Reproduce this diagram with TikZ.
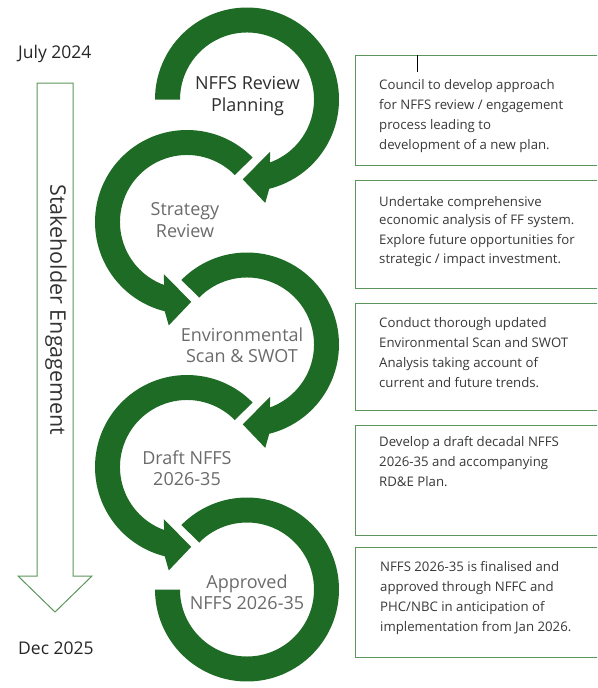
\documentclass[tikz,border=0pt]{standalone}
\usepackage{fontspec}
\setmainfont{Open Sans}
\usetikzlibrary{calc}
\definecolor{ringgreen}{RGB}{30,107,38}
\definecolor{boxgreen}{RGB}{92,150,92}

\begin{document}
\begin{tikzpicture}[x=1pt,y=1pt]
    \tikzset{ring/.style = {fill=ringgreen}}
    \tikzset{stage/.style = {align=center, text=black!58, font=\fontsize{18}{21.5}\selectfont}}
    \tikzset{notebox/.style = {draw=boxgreen, line width=1.3pt, anchor=north west, minimum width=250pt, inner sep=0pt}}
    \tikzset{note/.style = {anchor=north west, inner sep=0pt, align=left, text=black!78, font=\fontsize{13.2}{20}\selectfont}}
    \tikzset{date/.style = {anchor=base west, inner sep=0pt, text=black!85, font=\fontsize{17.5}{20}\selectfont}}

    \clip (0,0) rectangle (597,-688);

    % ring centres
    \coordinate (c1) at (247,-99.5);
    \coordinate (c2) at (187,-222);
    \coordinate (c3) at (247,-344.5);
    \coordinate (c4) at (187,-467);
    \coordinate (c5) at (247,-589.5);

    % rings
    \fill[ring] ($(c1)+(180:92pt)$) arc[start angle=180, end angle=-76, radius=92pt]
        -- ($(c1)+(-80:105pt)$) -- ($(c1)+(-93:80pt)$) -- ($(c1)+(-66:57pt)$) -- ($(c1)+(-70:67pt)$)
        arc[start angle=-70, end angle=180, radius=67pt] -- cycle;
    \fill[ring] ($(c2)+(44.5:92pt)$) arc[start angle=44.5, end angle=256, radius=92pt]
        -- ($(c2)+(260:105pt)$) -- ($(c2)+(273:80pt)$) -- ($(c2)+(246:57pt)$) -- ($(c2)+(250:67pt)$)
        arc[start angle=250, end angle=44.5, radius=67pt] -- cycle;
    \fill[ring] ($(c3)+(135.5:92pt)$) arc[start angle=135.5, end angle=-76, radius=92pt]
        -- ($(c3)+(-80:105pt)$) -- ($(c3)+(-93:80pt)$) -- ($(c3)+(-66:57pt)$) -- ($(c3)+(-70:67pt)$)
        arc[start angle=-70, end angle=135.5, radius=67pt] -- cycle;
    \fill[ring] ($(c4)+(44.5:92pt)$) arc[start angle=44.5, end angle=256, radius=92pt]
        -- ($(c4)+(260:105pt)$) -- ($(c4)+(273:80pt)$) -- ($(c4)+(246:57pt)$) -- ($(c4)+(250:67pt)$)
        arc[start angle=250, end angle=44.5, radius=67pt] -- cycle;
    \fill[ring] ($(c5)+(135.5:92pt)$) arc[start angle=135.5, end angle=-180, radius=92pt]
        -- ($(c5)+(180:67pt)$) arc[start angle=-180, end angle=135.5, radius=67pt] -- cycle;

    % stage labels
    \node[stage, text=black!82] (s1) at ($(c1)+(0.5,3.5)$) {NFFS Review\\Planning};
    \node[stage] (s2) at ($(c2)+(-2,2)$) {Strategy\\Review};
    \node[stage] (s3) at ($(c3)+(-5,-0.5)$) {Environmental\\Scan \& SWOT};
    \node[stage] (s4) at ($(c4)+(0,-1)$) {Draft NFFS\\2026-35};
    \node[stage] (s5) at ($(c5)+(0,-2.5)$) {Approved\\NFFS 2026-35};

    % timeline
    \node[date] (start) at (18,-58) {July 2024};
    \node[date] (end) at (18,-654) {Dec 2025};
    \draw[boxgreen, line width=1pt, line join=miter]
        (37,-83) -- (73,-83) -- (73,-576) -- (92,-576) -- (55,-612) -- (18,-576) -- (37,-576) -- cycle;
    \node[rotate=-90, text=black!80, font=\fontsize{21.5}{24}\selectfont] (stake) at (56,-310) {Stakeholder Engagement};

    % notes
    \node[notebox, minimum height=110pt] (b1) at (355,-55) {};
    \node[notebox, minimum height=108pt] (b2) at (355,-180) {};
    \node[notebox, minimum height=107pt] (b3) at (355,-303) {};
    \node[notebox, minimum height=110pt] (b4) at (355,-425) {};
    \node[notebox, minimum height=110pt] (b5) at (355,-547) {};
    \draw[line width=0.8pt] ($(b1.north west)+(62,0)$) -- ++(0,-17);

    \node[note] (n1) at (379,-79) {Council to develop approach\\for NFFS review / engagement\\process leading to\\development of a new plan.};
    \node[note, font=\fontsize{13.2}{18.5}\selectfont] (n2) at (379,-196) {Undertake comprehensive\\economic analysis of FF system.\\[1.5pt]Explore future opportunities for\\strategic / impact investment.};
    \node[note] (n3) at (379,-317) {Conduct thorough updated\\Environmental Scan and SWOT\\Analysis taking account of\\current and future trends.};
    \node[note] (n4) at (379,-436) {Develop a draft decadal NFFS\\2026-35 and accompanying\\RD\&E Plan.};
    \node[note] (n5) at (380,-561) {NFFS 2026-35 is finalised and\\approved through NFFC and\\PHC/NBC in anticipation of\\implementation from Jan 2026.};
\end{tikzpicture}
\end{document}
